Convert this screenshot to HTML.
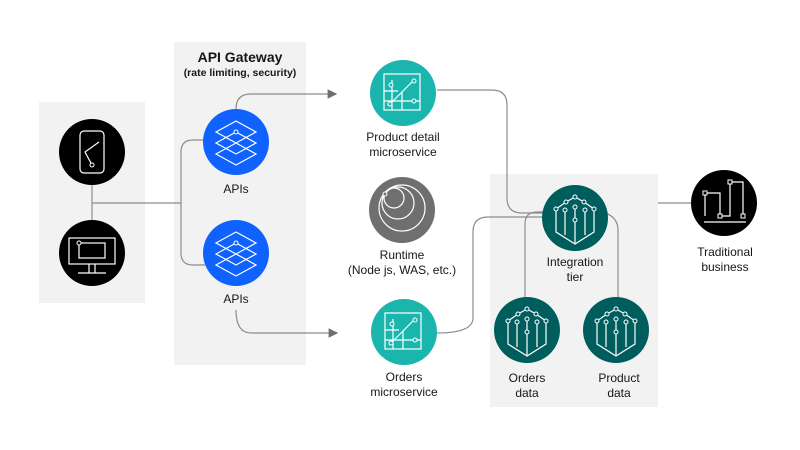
<!DOCTYPE html>
<html><head><style>
body{margin:0;background:#fff;}
svg{display:block;font-family:"Liberation Sans",sans-serif;}
text{font-size:12px;fill:#161616;text-anchor:middle;}
</style></head><body>
<svg width="800" height="450" viewBox="0 0 800 450">
<defs><marker id="ar" markerWidth="8" markerHeight="8" refX="7" refY="4" orient="auto"><path d="M0,0 L8,4 L0,8z" fill="#6f6f6f"/></marker></defs>
<rect x="39" y="102" width="106" height="201" fill="#f2f2f2"/>
<rect x="174" y="42" width="132" height="323" fill="#f2f2f2"/>
<rect x="490" y="174" width="168" height="233" fill="#f2f2f2"/>
<g fill="none" stroke="#8d8d8d" stroke-width="1.2">
<path d="M92,185 V225"/>
<path d="M92,203 H181"/>
<path d="M205,140 H193 Q181,140 181,152 V253 Q181,265 193,265 H205"/>
<path d="M236,109 Q236,94 251,94 H336" marker-end="url(#ar)"/>
<path d="M236,310 Q236,333 251,333 H337" marker-end="url(#ar)"/>
<path d="M437,90 H492 Q507,90 507,105 V198 Q507,213 522,213 H545"/>
<path d="M437,333 Q473,333 473,318 V232 Q473,217 488,217 H545"/>
<path d="M550,212 H537 Q525,212 525,224 V298"/>
<path d="M602,212 Q618,216 618,230 V298"/>
<path d="M658,203 H692"/>
</g>
<!-- left circles -->
<circle cx="92" cy="152" r="33" fill="#000"/>
<rect x="80" y="131" width="24" height="42" rx="4" fill="none" stroke="#fff" stroke-width="1.2"/>
<path d="M99,142 L85,152 L92,165" fill="none" stroke="#fff" stroke-width="1.2"/><circle cx="92" cy="165" r="2" fill="#000" stroke="#fff"/>
<circle cx="92" cy="253" r="33" fill="#000"/>
<rect x="69" y="238" width="46" height="26" fill="none" stroke="#fff" stroke-width="1.2"/>
<rect x="79" y="243" width="26" height="15" fill="none" stroke="#fff" stroke-width="1.2"/>
<circle cx="79" cy="243" r="2" fill="#000" stroke="#fff"/>
<path d="M89,264 V273 M95,264 V273 M78,273 H106" stroke="#fff" stroke-width="1.2"/>
<!-- gateway -->
<text x="240" y="62" style="font-size:14px;font-weight:bold">API Gateway</text>
<text x="240" y="76" style="font-size:10.5px;font-weight:bold">(rate limiting, security)</text>
<g id="api"><circle cx="236" cy="142" r="33" fill="#0f62fe"/>
<g fill="none" stroke="#fff" stroke-width="1.2"><path d="M236,121 L256,132 L236,143 L216,132Z"/><path d="M236,132 L256,143 L236,154 L216,143Z"/><path d="M236,143 L256,154 L236,165 L216,154Z"/></g>
<circle cx="236" cy="132" r="2" fill="#0f62fe" stroke="#fff"/></g>
<use href="#api" y="111"/>
<text x="236" y="193">APIs</text>
<text x="236" y="303">APIs</text>
<!-- microservices -->
<g id="ms"><circle cx="403" cy="93" r="33" fill="#1ab5ad"/>
<g fill="none" stroke="#fff" stroke-width="1.2"><rect x="384" y="74" width="36" height="36"/><path d="M384,91 H398 M384,101 H420 M392,80 V110 M402,92 V110 M388,106 L414,80"/></g>
<circle cx="390" cy="104" r="2" fill="#1ab5ad" stroke="#fff"/><circle cx="414" cy="81" r="2" fill="#1ab5ad" stroke="#fff"/><circle cx="414" cy="101" r="2" fill="#1ab5ad" stroke="#fff"/><circle cx="391" cy="85" r="2" fill="#1ab5ad" stroke="#fff"/></g>
<use href="#ms" x="1" y="239"/>
<text x="403" y="141">Product detail</text><text x="403" y="156">microservice</text>
<circle cx="402" cy="210" r="33" fill="#6f6f6f"/>
<g fill="none" stroke="#fff" stroke-width="1.2"><circle cx="402" cy="208" r="23"/><circle cx="398" cy="203" r="16"/><circle cx="394" cy="198" r="10"/></g>
<circle cx="385" cy="194" r="2" fill="#6f6f6f" stroke="#fff"/>
<text x="402" y="259">Runtime</text><text x="402" y="274">(Node js, WAS, etc.)</text>
<text x="404" y="381">Orders</text><text x="404" y="396">microservice</text>
<!-- integration -->
<g id="it"><circle cx="575" cy="218" r="33" fill="#005d5d"/>
<g fill="none" stroke="#fff" stroke-width="1.2"><path d="M556,209 V232 L575,244 L594,232 V209 L584,202 L575,197 L566,202 Z"/><path d="M565,210 V235 M575,207 V243 M585,210 V235"/></g>
<g fill="#005d5d" stroke="#fff"><circle cx="575" cy="197" r="2"/><circle cx="566" cy="202" r="2"/><circle cx="584" cy="202" r="2"/><circle cx="556" cy="209" r="2"/><circle cx="594" cy="209" r="2"/><circle cx="565" cy="210" r="2"/><circle cx="575" cy="207" r="2"/><circle cx="585" cy="210" r="2"/><circle cx="575" cy="220" r="2"/></g></g>
<use href="#it" x="-48" y="112"/>
<use href="#it" x="41" y="112"/>
<text x="575" y="266">Integration</text><text x="575" y="281">tier</text>
<text x="527" y="382">Orders</text><text x="527" y="397">data</text>
<text x="619" y="382">Product</text><text x="619" y="397">data</text>
<!-- traditional -->
<circle cx="724" cy="203" r="33" fill="#000"/>
<g fill="none" stroke="#fff" stroke-width="1.2"><path d="M705,193 H720 V216 H730 V182 H743 V216 M704,222 H746 M705,193 V216"/></g>
<g fill="#000" stroke="#fff"><rect x="703" y="191" width="4" height="4"/><rect x="728" y="180" width="4" height="4"/><rect x="718" y="214" width="4" height="4"/><rect x="741" y="214" width="4" height="4"/></g>
<text x="725" y="256">Traditional</text><text x="725" y="271">business</text>
</svg>
</body></html>
